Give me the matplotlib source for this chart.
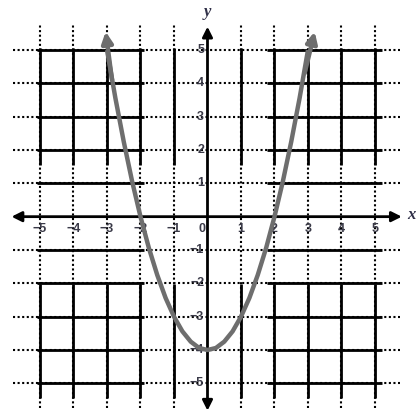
import matplotlib
matplotlib.use("Agg")
import matplotlib.pyplot as plt

# ---- data ----
ticks = [-5, -4, -3, -2, -1, 1, 2, 3, 4, 5]
x_labels = ["\u22125", "\u22124", "\u22123", "\u22122", "\u22121", "0", "1", "2", "3", "4", "5"]
x_label_vals = [-5, -4, -3, -2, -1, 0, 1, 2, 3, 4, 5]
y_labels = ["5", "4", "3", "2", "1", "\u22121", "\u22122", "\u22123", "\u22124", "\u22125"]
y_label_vals = [5, 4, 3, 2, 1, -1, -2, -3, -4, -5]

curve_x = [-3.0, -2.75, -2.5, -2.25, -2.0, -1.75, -1.5, -1.25, -1.0, -0.75, -0.5, -0.25, 0.0,
           0.25, 0.5, 0.75, 1.0, 1.25, 1.5, 1.75, 2.0, 2.25, 2.5, 2.75, 3.0]
curve_y = [5.0, 3.56, 2.25, 1.06, 0.0, -0.94, -1.75, -2.44, -3.0, -3.44, -3.75, -3.94, -4.0,
           -3.94, -3.75, -3.44, -3.0, -2.44, -1.75, -0.94, 0.0, 1.06, 2.25, 3.56, 5.0]
arrow_left_tip = (-3.04, 5.55)
arrow_right_tip = (3.2, 5.55)

fig = plt.figure(figsize=(4.17, 4.13), dpi=100)
ax = fig.add_axes([0, 0, 1, 1])
ax.set_xlim(-6.194, 6.254)
ax.set_ylim(-5.89, 6.50)
ax.axis("off")

dot = dict(color="black", lw=1.5, linestyle=(0, (1, 1.2)), dash_capstyle="butt", zorder=1)
solid = dict(color="black", lw=2.0, solid_capstyle="butt", zorder=2)

for k in ticks:
    # dotted full lines
    ax.plot([-5.8, 5.75], [k, k], **dot)
    ax.plot([k, k], [-5.75, 5.8], **dot)
    # solid blocks
    ax.plot([-5.08, -1.9], [k, k], **solid)
    ax.plot([1.78, 5.2], [k, k], **solid)
    ax.plot([k, k], [1.55, 5.05], **solid)
    ax.plot([k, k], [-5.45, -2.02], **solid)

# axes with arrows
ax.annotate("", xy=(-5.85, 0), xytext=(5.8, 0),
            arrowprops=dict(arrowstyle="<|-|>", lw=2.0, color="black",
                            mutation_scale=15, shrinkA=0, shrinkB=0), zorder=3)
ax.annotate("", xy=(0, -5.82), xytext=(0, 5.7),
            arrowprops=dict(arrowstyle="<|-|>", lw=2.0, color="black",
                            mutation_scale=15, shrinkA=0, shrinkB=0), zorder=3)

ax.text(6.1, 0.05, "x", fontsize=12, family="Liberation Serif", style="italic",
        fontweight="bold", ha="center", va="center", color="#303048")
ax.text(0.0, 6.15, "y", fontsize=12, family="Liberation Serif", style="italic",
        fontweight="bold", ha="center", va="center", color="#303048")

lab = dict(fontsize=9, family="Liberation Sans", fontweight="bold", color="#3a3a48", zorder=4)
for v, s in zip(x_label_vals, x_labels):
    xx = v - 0.15 if v == 0 else v
    ax.text(xx, -0.36, s, ha="center", va="center", **lab)
for v, s in zip(y_label_vals, y_labels):
    ax.text(-0.1, v, s, ha="right", va="center", **lab)

# parabola
gray = "#6e6e6e"
ax.plot(curve_x, curve_y, color=gray, lw=3.2, solid_capstyle="butt", zorder=5)
ax.annotate("", xy=arrow_left_tip, xytext=(-2.85, 4.1),
            arrowprops=dict(arrowstyle="-|>", lw=3.2, color=gray,
                            mutation_scale=16, shrinkA=0, shrinkB=0), zorder=6)
ax.annotate("", xy=arrow_right_tip, xytext=(2.9, 4.3),
            arrowprops=dict(arrowstyle="-|>", lw=3.2, color=gray,
                            mutation_scale=16, shrinkA=0, shrinkB=0), zorder=6)

fig.savefig("out.png", dpi=100)
